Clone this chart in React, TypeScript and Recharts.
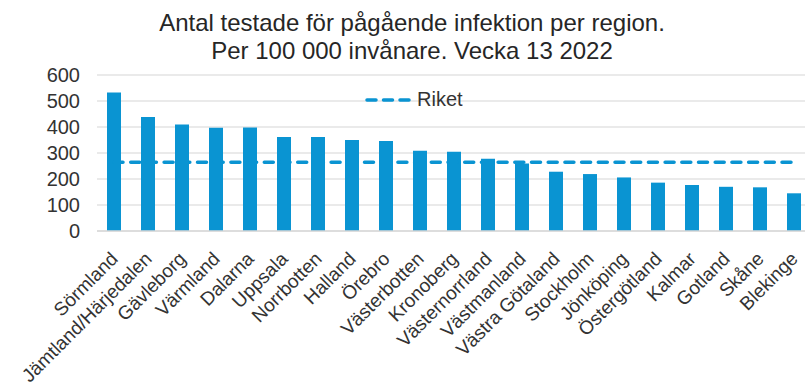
// Antal testade för pågående infektion per region – bar chart with national average line
import React from 'react';
import { ComposedChart, Bar, Line, XAxis, YAxis, CartesianGrid, Legend } from 'recharts';

const regions = [
  'Sörmland', 'Jämtland/Härjedalen', 'Gävleborg', 'Värmland', 'Dalarna', 'Uppsala',
  'Norrbotten', 'Halland', 'Örebro', 'Västerbotten', 'Kronoberg', 'Västernorrland',
  'Västmanland', 'Västra Götaland', 'Stockholm', 'Jönköping', 'Östergötland',
  'Kalmar', 'Gotland', 'Skåne', 'Blekinge',
];
const perCapita = [533, 438, 410, 397, 398, 362, 362, 350, 346, 309, 305, 278, 260, 228, 219, 206, 186, 177, 170, 168, 145];
const riket = [264, 264, 264, 264, 264, 264, 264, 264, 264, 264, 264, 264, 264, 264, 264, 264, 264, 264, 264, 264, 264];
const yTicks = [0, 100, 200, 300, 400, 500, 600];

const BLUE = '#0a94d2';
const FONT = '"Liberation Sans", Arial, sans-serif';

const data = regions.map((name, i) => ({ name, value: perCapita[i], riket: riket[i] }));

// rotated category labels, end of text sits at the bar centre
const RegionTick = (props: any) => {
  const { x, y, payload } = props;
  return (
    <g transform={`translate(${x + 5},${y + 29}) rotate(-45)`}>
      <text x={0} y={0} textAnchor="end" fontSize={19} fill="#333" fontFamily={FONT}>
        {payload.value}
      </text>
    </g>
  );
};

const RiketLegend = () => (
  <div style={{ display: 'flex', alignItems: 'center', fontFamily: FONT, fontSize: 20, color: '#333' }}>
    <svg width={50} height={10} style={{ marginRight: 3 }}>
      <line x1={3} y1={5} x2={47} y2={5} stroke={BLUE} strokeWidth={3.5} strokeDasharray="9 7.5" strokeLinecap="round" />
    </svg>
    <span>Riket</span>
  </div>
);

export default function App() {
  return (
    <div style={{ position: 'absolute', left: 0, top: 0, width: 805, height: 388, overflow: 'hidden', background: '#fff' }}>
      <div
        style={{
          position: 'absolute', left: 0, top: 9, width: 824, textAlign: 'center',
          fontFamily: FONT, fontSize: 24, lineHeight: '28px', color: '#262626',
        }}
      >
        Antal testade för pågående infektion per region.
        <br />
        Per 100 000 invånare. Vecka 13 2022
      </div>
      <ComposedChart
        width={812}
        height={388}
        data={data}
        margin={{ top: 75, right: 1, bottom: 0, left: 0 }}
        style={{ position: 'absolute', left: 0, top: 0 }}
      >
        <CartesianGrid vertical={false} stroke="#e3e3e3" strokeWidth={1.5} />
        <XAxis
          dataKey="name"
          interval={0}
          height={157}
          tickSize={0}
          tickMargin={0}
          tick={<RegionTick />}
          axisLine={{ stroke: '#d9d9d9', strokeWidth: 1.5 }}
          tickLine={false}
        />
        <YAxis
          width={97}
          domain={[0, 600]}
          ticks={yTicks}
          interval={0}
          tickSize={0}
          tickMargin={17}
          axisLine={false}
          tickLine={false}
          tick={{ fontSize: 20, fill: '#333', fontFamily: FONT }}
        />
        <Legend
          verticalAlign="top"
          content={<RiketLegend />}
          wrapperStyle={{ left: 364, top: 88, width: 120, height: 0, overflow: 'visible' }}
        />
        <Bar dataKey="value" fill={BLUE} barSize={14} isAnimationActive={false} legendType="none" />
        <Line
          dataKey="riket"
          stroke={BLUE}
          strokeWidth={3.5}
          strokeDasharray="9 7.7"
          strokeLinecap="round"
          dot={false}
          activeDot={false}
          isAnimationActive={false}
        />
      </ComposedChart>
    </div>
  );
}
